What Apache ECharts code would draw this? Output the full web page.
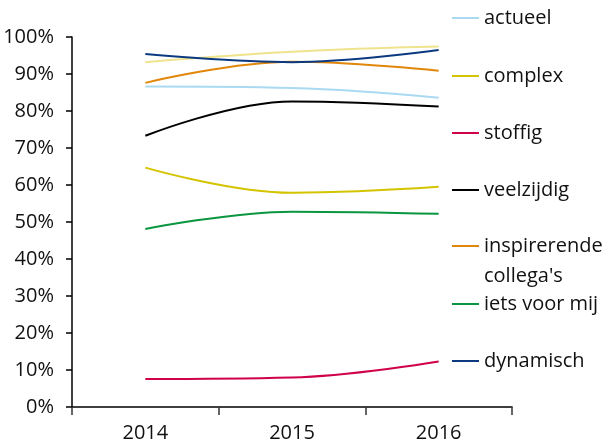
<!DOCTYPE html>
<html>
<head>
<meta charset="utf-8">
<script src="https://cdn.jsdelivr.net/npm/echarts@6/dist/echarts.min.js"></script>
<style>
  html, body { margin: 0; padding: 0; background: #fff; }
  #chart { width: 602px; height: 446px; }
</style>
</head>
<body>
<div id="chart"></div>
<script>
// Years on the category axis
const years = ['2014', '2015', '2016'];

// Share of respondents per word, in percent
const actueel = [86.6, 86.2, 83.6];
const complex = [64.7, 57.9, 59.5];
const stoffig = [7.6, 8.0, 12.3];
const veelzijdig = [73.3, 82.6, 81.2];
const inspirerende = [87.6, 93.3, 90.9];
const ietsVoorMij = [48.1, 52.8, 52.2];
const dynamisch = [95.4, 93.2, 96.5];
const overig = [93.2, 96.0, 97.4];

// Y axis tick values
const yTicks = [0, 10, 20, 30, 40, 50, 60, 70, 80, 90, 100];

const FONT = 'Open Sans';
const FONT_SIZE = 20;
const TEXT_COLOR = '#111111';

const seriesDefs = [
  { name: 'reeks', data: overig, color: '#efe38e' },
  { name: 'actueel', data: actueel, color: '#a9daf2' },
  { name: 'complex', data: complex, color: '#d4c400' },
  { name: 'stoffig', data: stoffig, color: '#d0004a' },
  { name: 'veelzijdig', data: veelzijdig, color: '#000000' },
  { name: "inspirerende collega's", data: inspirerende, color: '#e0870a' },
  { name: 'iets voor mij', data: ietsVoorMij, color: '#0a9640' },
  { name: 'dynamisch', data: dynamisch, color: '#0b3a80' }
];

// Legend rows: centre y of each entry's line marker; an optional second text line
const legendRows = [
  { name: 'actueel', y: 18 },
  { name: 'complex', y: 76 },
  { name: 'stoffig', y: 133 },
  { name: 'veelzijdig', y: 190 },
  { name: "inspirerende collega's", y: 246, first: 'inspirerende', second: "collega's" },
  { name: 'iets voor mij', y: 304 },
  { name: 'dynamisch', y: 361 }
];

const LINE_H = 24;
const LEGEND_LEFT = 452;
const legends = legendRows.map(r => ({
  orient: 'vertical',
  left: LEGEND_LEFT,
  top: r.y - LINE_H / 2,
  padding: 0,
  itemGap: 0,
  itemWidth: 27,
  itemHeight: 2,
  icon: 'rect',
  selectedMode: false,
  data: [r.name],
  formatter: r.first ? () => r.first : undefined,
  textStyle: {
    fontFamily: FONT,
    fontSize: FONT_SIZE,
    color: TEXT_COLOR,
    lineHeight: LINE_H
  }
}));

// Continuation lines of wrapped legend labels
const legendExtra = legendRows.filter(r => r.second).map(r => ({
  type: 'text',
  left: LEGEND_LEFT + 27 + 5,
  top: r.y + 30 - LINE_H / 2,
  style: {
    text: r.second,
    fontFamily: FONT,
    fontSize: FONT_SIZE,
    fill: TEXT_COLOR,
    lineHeight: LINE_H
  }
}));

const chart = echarts.init(document.getElementById('chart'), null, { renderer: 'canvas' });

chart.setOption({
  animation: false,
  backgroundColor: '#ffffff',
  grid: { left: 72, right: 90, top: 37, bottom: 39, containLabel: false },
  legend: legends,
  graphic: legendExtra,
  xAxis: {
    type: 'category',
    data: years,
    boundaryGap: true,
    axisLine: { lineStyle: { color: '#000', width: 1.5 } },
    axisTick: { show: true, length: 8, inside: false, lineStyle: { color: '#333', width: 1.5 } },
    axisLabel: { fontFamily: FONT, fontSize: FONT_SIZE, color: TEXT_COLOR, margin: 16 }
  },
  yAxis: {
    type: 'value',
    min: yTicks[0],
    max: yTicks[yTicks.length - 1],
    interval: yTicks[1] - yTicks[0],
    axisLine: { show: true, lineStyle: { color: '#000', width: 1.5 } },
    axisTick: { show: true, length: 6, lineStyle: { color: '#000', width: 1.5 } },
    splitLine: { show: false },
    axisLabel: {
      fontFamily: FONT, fontSize: FONT_SIZE, color: TEXT_COLOR, margin: 18,
      formatter: v => v + '%'
    }
  },
  series: seriesDefs.map(s => ({
    name: s.name,
    type: 'line',
    data: s.data,
    smooth: 0.4,
    showSymbol: false,
    symbol: 'none',
    lineStyle: { color: s.color, width: 2 },
    itemStyle: { color: s.color },
    emphasis: { disabled: true }
  }))
});
</script>
</body>
</html>
